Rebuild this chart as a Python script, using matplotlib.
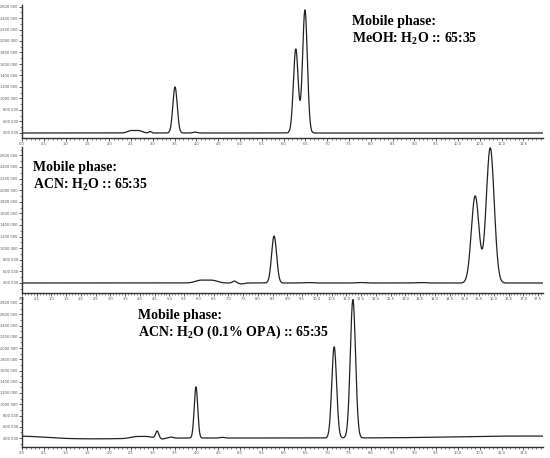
import numpy as np
import matplotlib
matplotlib.use("Agg")
import matplotlib.pyplot as plt
from matplotlib.ticker import MultipleLocator

plt.rcParams['mathtext.fontset'] = 'custom'
plt.rcParams['mathtext.rm'] = 'Liberation Serif:bold'
plt.rcParams['mathtext.bf'] = 'Liberation Serif:bold'
plt.rcParams['mathtext.it'] = 'Liberation Serif:bold'

# peak tables: retention time (min), height above baseline, sigma (min)
baseline = [400000, 400000, 400000]

p1_rt = [2.50, 2.68, 2.94, 3.51, 3.97, 6.28, 6.49]
p1_h = [40000, 40000, 25000, 800000, 15000, 1460000, 2140000]
p1_sd = [0.08, 0.08, 0.03, 0.05, 0.05, 0.055, 0.055]

p2_rt = [6.05, 6.45, 7.20, 7.45, 8.55, 9.66, 11.5, 13.5, 15.37, 15.88]
p2_h = [45000, 45000, 35000, -15000, 810000, 8000, 8000, 8000, 1500000, 2330000]
p2_sd = [0.18, 0.18, 0.06, 0.08, 0.085, 0.15, 0.15, 0.15, 0.13, 0.135]

p3_rt = [0.0, 1.6, 2.60, 2.85, 3.10, 3.22, 3.42, 3.99, 4.59, 7.16, 7.59, 11.5]
p3_h = [35000, -15000, 30000, 30000, 125000, -15000, 18000, 910000, 12000, 1620000, 2460000, 35000]
p3_sd = [0.5, 0.9, 0.12, 0.12, 0.035, 0.04, 0.05, 0.04, 0.05, 0.055, 0.06, 1.5]

labels = [
    ("Mobile phase:", r"MeOH: H$_{\mathrm{2}}$O :: 65:35"),
    ("Mobile phase:", r"ACN: H$_{\mathrm{2}}$O :: 65:35"),
    ("Mobile phase:", r"ACN: H$_{\mathrm{2}}$O (0.1% OPA) :: 65:35"),
]
x_max = [11.95, 17.67, 11.95]
y_top_tick = [2600000, 2600000, 2800000]


def trace(t, rt, h, sd, base):
    y = np.full_like(t, base, dtype=float)
    for r, a, s in zip(rt, h, sd):
        y += a * np.exp(-0.5 * ((t - r) / s) ** 2)
    return y


fig = plt.figure(figsize=(5.5, 4.58), dpi=100)

# axes boxes in pixels: (top, bottom) and baseline pixel row
W, H = 550, 458
boxes = [(5, 138, 133), (147, 293, 283), (297, 447, 438)]
px_per_200k = [11.5, 11.6, 11.25]
text_pos = [(352, 22), (33, 168), (138, 315)]
peaks = [(p1_rt, p1_h, p1_sd), (p2_rt, p2_h, p2_sd), (p3_rt, p3_h, p3_sd)]

for i in range(3):
    top, bot, base_px = boxes[i]
    ax = fig.add_axes([22 / W, 1 - bot / H, 521 / W, (bot - top) / H])
    t = np.linspace(0, x_max[i], 4000)
    rt, h, sd = peaks[i]
    ax.plot(t, trace(t, rt, h, sd, baseline[i]), color='#222222', lw=0.9)

    unit = 200000 / px_per_200k[i]
    ax.set_xlim(0, x_max[i])
    ax.set_ylim(baseline[i] - (bot - base_px) * unit, baseline[i] + (base_px - top) * unit)

    ax.spines['top'].set_visible(False)
    ax.spines['right'].set_visible(False)
    for s in ['left', 'bottom']:
        ax.spines[s].set_linewidth(1.0)
        ax.spines[s].set_color('#333333')

    ax.xaxis.set_major_locator(MultipleLocator(0.5))
    ax.xaxis.set_minor_locator(MultipleLocator(0.1))
    yt = np.arange(400000, y_top_tick[i] + 1, 200000)
    ax.set_yticks(yt)
    ax.set_yticklabels([f"{v // 1000} 000" for v in yt])
    ax.yaxis.set_minor_locator(MultipleLocator(100000))
    ax.xaxis.set_major_formatter(matplotlib.ticker.FormatStrFormatter('%.1f'))
    ax.tick_params(which='major', length=2.0, width=0.6, pad=1.0, labelsize=2.6,
                   labelcolor='#555555', color='#444444')
    ax.tick_params(which='minor', length=1.2, width=0.5, color='#555555')
    ax.set_facecolor('none')

    tx, ty = text_pos[i]
    for k, line in enumerate(labels[i]):
        fig.text(tx / W, 1 - (ty + 17 * k) / H, line, fontsize=10, fontweight='bold',
                 family='Liberation Serif', va='center', ha='left')

fig.savefig('out.png', dpi=100)
